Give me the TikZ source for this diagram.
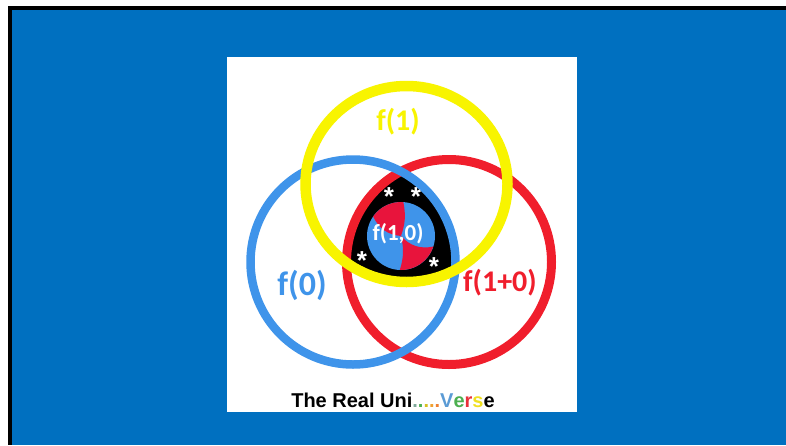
\documentclass[tikz,border=0pt]{standalone}
\usepackage{fontspec}
\setmainfont{Liberation Sans}
\newfontfamily\calib{Carlito}
\definecolor{bgblue}{HTML}{0070C0}
\definecolor{cblue}{HTML}{3F94EA}
\definecolor{cred}{HTML}{F01E2C}
\definecolor{dred}{HTML}{E8143C}
\definecolor{cyel}{HTML}{F8F400}
\definecolor{dotA}{HTML}{7FA89A}
\definecolor{dotB}{HTML}{4CB050}
\definecolor{dotC}{HTML}{D8C020}
\definecolor{dotD}{HTML}{F0A030}
\definecolor{dotE}{HTML}{F08030}
\definecolor{vblue}{HTML}{5B9BD5}
\definecolor{egreen}{HTML}{4CAF50}
\definecolor{rred}{HTML}{E8303A}
\definecolor{syel}{HTML}{F0E020}
\tikzset{
  ring/.style={line width=#1},
  lbl/.style={inner sep=0pt, font=\calib\bfseries\fontsize{#1}{#1}\selectfont},
  starmark/.style={inner sep=0pt, anchor=base, text=white, font=\bfseries\fontsize{26}{26}\selectfont},
}
\begin{document}
\begin{tikzpicture}[x=1pt,y=-1pt]
\useasboundingbox (0,0) rectangle (786,445);
\fill[white] (0,0) rectangle (786,445);
\fill[black] (8,6) rectangle (786,445);
\fill[bgblue] (11.5,9.5) rectangle (786,445);
\fill[white] (227,57) rectangle (577,412);
% triple intersection
\begin{scope}
  \clip (353,262) circle[radius=102.5pt];
  \clip (449,262) circle[radius=102.5pt];
  \fill[black] (406.5,184) ellipse[x radius=101pt, y radius=98pt];
\end{scope}
% rings
\draw[ring=9pt, cred] (449,262) circle[radius=102.5pt];
\draw[ring=8.5pt, cblue] (353,262) circle[radius=102.5pt];
\draw[ring=10.5pt, cyel] (406.5,184) ellipse[x radius=101pt, y radius=98pt];
% inner disc
\begin{scope}[shift={(401,236)}]
  \fill[cblue] (0pt,0pt) circle[radius=34pt];
  \fill[dred] (86:34pt) arc[start angle=86, end angle=145, radius=34pt]
     to[bend right=30] (0pt,0pt) to[bend right=15] cycle;
  \fill[dred] (-18:34pt) arc[start angle=-18, end angle=-92, radius=34pt]
     to[bend right=15] (0pt,0pt) to[bend right=30] cycle;
\end{scope}
\node[lbl=23, text=white] (f10) at (398,234) {f(1,0)};
\node[starmark] (s1) at (389,205) {*};
\node[starmark] (s2) at (416,205) {*};
\node[starmark] (s3) at (362,269) {*};
\node[starmark] (s4) at (434,275) {*};
% labels
\node[lbl=30, text=cyel] (f1) at (398,122) {f(1)};
\node[lbl=34, text=cblue] (f0) at (302,285) {f(0)};
\node[lbl=30, text=cred] (f1p0) at (500,283) {f(1+0)};
\node[inner sep=0pt, anchor=base, font=\bfseries\fontsize{20}{20}\selectfont] (title) at (393,407)
  {The Real Uni\textcolor{dotA}{.}\textcolor{dotB}{.}\textcolor{dotC}{.}\textcolor{dotD}{.}\textcolor{dotE}{.}\textcolor{vblue}{V}\textcolor{egreen}{e}\textcolor{rred}{r}\textcolor{syel}{s}e};
\end{tikzpicture}
\end{document}
